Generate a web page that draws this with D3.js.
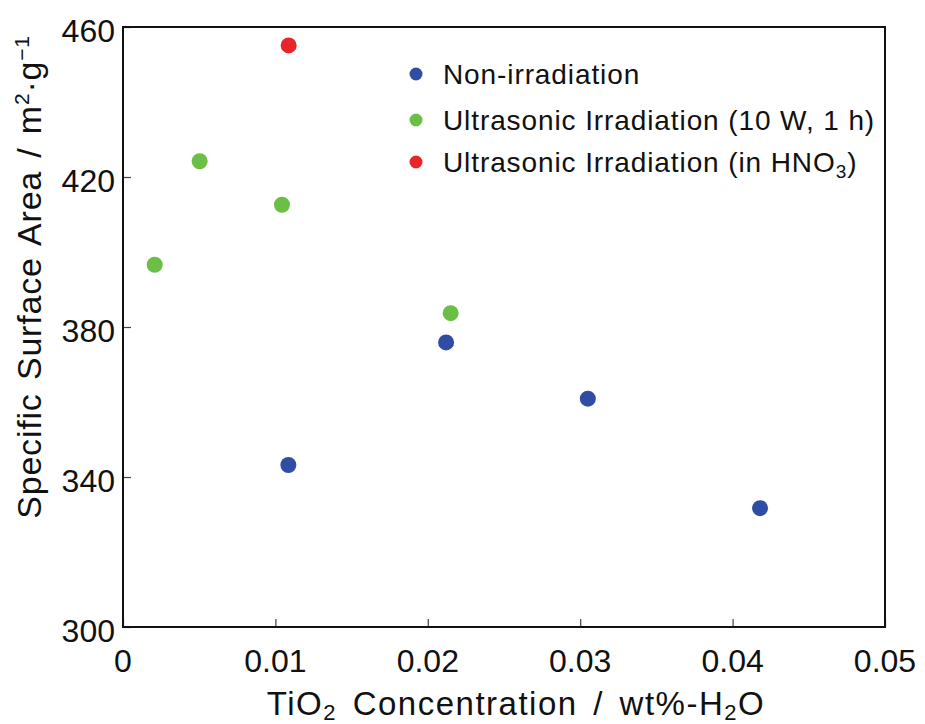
<!DOCTYPE html>
<html><head><meta charset="utf-8">
<script src="https://cdn.jsdelivr.net/npm/d3@7"></script>
<style>
body{margin:0;background:#fff;}
text{font-family:"Liberation Sans",Arial,sans-serif;fill:#111;}
</style></head>
<body><svg id="c" width="925" height="724"></svg>
<script>
const seriesNames = ["Non-irradiation", "Ultrasonic Irradiation (10 W, 1 h)", "Ultrasonic Irradiation (in HNO3)"];
const seriesColors = ["#2f4ea3", "#6cbf46", "#e8262a"];
const nonX = [0.01085, 0.0212, 0.0305, 0.0418];
const nonY = [343.2, 375.9, 360.9, 331.7];
const usX = [0.00208, 0.00503, 0.01043, 0.0215];
const usY = [396.6, 424.2, 412.6, 383.7];
const hnoX = [0.01087];
const hnoY = [455.1];
const xTicks = [0, 0.01, 0.02, 0.03, 0.04, 0.05];
const yTicks = [300, 340, 380, 420, 460];

const svg = d3.select("#c");
const L = 123, R = 885, T = 27, B = 627;
const x = d3.scaleLinear().domain([0, 0.05]).range([L, R]);
const y = d3.scaleLinear().domain([300, 460]).range([B, T]);

// inner ticks
const gx = svg.append("g").attr("transform", `translate(0,${B})`)
  .call(d3.axisTop(x).tickValues(xTicks).tickSize(8).tickFormat(""));
const gy = svg.append("g").attr("transform", `translate(${L},0)`)
  .call(d3.axisRight(y).tickValues(yTicks).tickSize(8).tickFormat(""));
[gx, gy].forEach(g => { g.select(".domain").remove(); g.selectAll("line").attr("stroke", "#444").attr("stroke-width", 1.2); });

// frame
svg.append("rect").attr("x", L).attr("y", T).attr("width", R - L).attr("height", B - T)
  .attr("fill", "none").attr("stroke", "#111").attr("stroke-width", 2);

// tick labels
svg.append("g").selectAll("text").data(xTicks).join("text")
  .attr("x", d => x(d)).attr("y", 672).attr("text-anchor", "middle")
  .attr("font-size", 32).text(d => d === 0 ? "0" : d3.format(".2f")(d));
svg.append("g").selectAll("text").data(yTicks).join("text")
  .attr("x", 115).attr("y", d => y(d) + 15).attr("text-anchor", "end")
  .attr("font-size", 32).text(d => d);

// axis titles
const xt = svg.append("text").attr("x", 516).attr("y", 715).attr("text-anchor", "middle")
  .attr("font-size", 33).attr("letter-spacing", 1.5).attr("word-spacing", 5);
xt.append("tspan").text("TiO");
xt.append("tspan").attr("font-size", 22).attr("dy", 5).text("2");
xt.append("tspan").attr("dy", -5).text(" Concentration / wt%-H");
xt.append("tspan").attr("font-size", 22).attr("dy", 5).text("2");
xt.append("tspan").attr("dy", -5).text("O");

const yt = svg.append("text").attr("transform", "translate(41,277) rotate(-90)")
  .attr("text-anchor", "middle").attr("font-size", 34).attr("letter-spacing", 0.8).attr("word-spacing", 3);
yt.append("tspan").text("Specific Surface Area / m");
yt.append("tspan").attr("font-size", 21).attr("dy", -12).text("2");
yt.append("tspan").attr("dy", 12).text("·g");
yt.append("tspan").attr("font-size", 21).attr("dy", -12).text("−1");

// points
const groups = [[nonX, nonY], [usX, usY], [hnoX, hnoY]];
groups.forEach(([xs, ys], i) => {
  svg.append("g").selectAll("circle").data(xs.map((v, j) => [v, ys[j]])).join("circle")
    .attr("cx", d => x(d[0])).attr("cy", d => y(d[1])).attr("r", 8)
    .attr("fill", seriesColors[i]);
});

// legend
const lg = svg.append("g");
const ly = [74, 120, 162];
seriesNames.forEach((n, i) => {
  lg.append("circle").attr("cx", 416).attr("cy", ly[i]).attr("r", 6.5).attr("fill", seriesColors[i]);
  const t = lg.append("text").attr("x", 443).attr("y", ly[i] + 10).attr("font-size", 28).attr("letter-spacing", 0.9);
  if (i === 2) {
    t.append("tspan").text("Ultrasonic Irradiation (in HNO");
    t.append("tspan").attr("font-size", 19).attr("dy", 6).text("3");
    t.append("tspan").attr("dy", -6).text(")");
  } else t.text(n);
});
</script></body></html>
